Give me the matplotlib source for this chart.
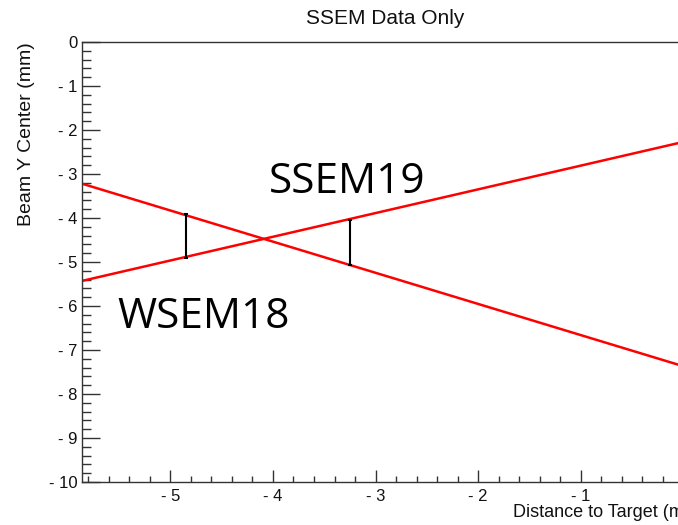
import matplotlib
matplotlib.use("Agg")
import matplotlib.pyplot as plt
from matplotlib.ticker import MultipleLocator, FuncFormatter

# ---- data ----
bar_x = [-4.85, -3.25]
bar_top = [-3.92, -4.05]
bar_bottom = [-4.92, -5.06]

line_x = [-5.86, 0.0]
line_a_y = [-3.22, -7.37]   # descending line
line_b_y = [-5.43, -2.27]   # ascending line

title = "SSEM Data Only"
xlabel = "Distance to Target (m)"
ylabel = "Beam Y Center (mm)"
annot_labels = ["SSEM19", "WSEM18"]
annot_x = [-4.04, -5.52]
annot_y = [-3.43, -6.5]

plt.rcParams['font.family'] = ['Liberation Sans', 'DejaVu Sans']

fig = plt.figure(figsize=(6.78, 5.25), dpi=100)
W, H = 678, 525
ax = fig.add_axes([82 / W, (H - 482) / H, (683 - 82) / W, (482 - 42) / H])

red = '#ff0000'
ax.plot(line_x, line_a_y, color=red, lw=1.8, solid_capstyle='butt')
ax.plot(line_x, line_b_y, color=red, lw=1.8, solid_capstyle='butt')
ax.vlines(bar_x, bar_bottom, bar_top, color='black', lw=1.5)
ax.plot(bar_x, bar_top, ls='none', marker='_', ms=3, mew=1.5, color='black')
ax.plot(bar_x, bar_bottom, ls='none', marker='_', ms=3, mew=1.5, color='black')

ax.set_xlim(-5.86, -0.005)
ax.set_ylim(-10, 0)

def fmt(v, pos):
    if abs(v) < 1e-9:
        return "0"
    if v < 0:
        return "- %g" % abs(v)
    return "%g" % v

ax.xaxis.set_major_locator(MultipleLocator(1))
ax.xaxis.set_minor_locator(MultipleLocator(0.2))
ax.yaxis.set_major_locator(MultipleLocator(1))
ax.yaxis.set_minor_locator(MultipleLocator(0.2))
ax.xaxis.set_major_formatter(FuncFormatter(fmt))
ax.yaxis.set_major_formatter(FuncFormatter(fmt))

spine_c = '#333333'
for s in ax.spines.values():
    s.set_color(spine_c)
    s.set_linewidth(1.0)
ax.spines['right'].set_visible(False)

ax.tick_params(axis='x', which='major', direction='in', length=9, width=1.0,
               color=spine_c, labelsize=12, pad=5, labelcolor='#111111')
ax.tick_params(axis='x', which='minor', direction='in', length=4.5, width=1.0,
               color=spine_c)
ax.tick_params(axis='y', which='major', direction='in', length=13, width=1.0,
               color=spine_c, labelsize=12, pad=3, labelcolor='#111111')
ax.tick_params(axis='y', which='minor', direction='in', length=6.5, width=1.0,
               color=spine_c)

fig.text(513 / W, 1 - 504 / H, xlabel, ha='left', va='top',
         fontsize=13, color='#111111')
fig.text(27 / W, 1 - 42 / H, ylabel, rotation=90, ha='center', va='top',
         fontsize=14, color='#111111')
fig.text(385 / W, 1 - 18 / H, title, ha='center', va='center',
         fontsize=15, color='#111111')

for lab, tx, ty in zip(annot_labels, annot_x, annot_y):
    ax.text(tx, ty, lab, fontsize=30.5, family=['Open Sans', 'DejaVu Sans'],
            ha='left', va='baseline', color='black')

fig.savefig("out.png", dpi=100)
